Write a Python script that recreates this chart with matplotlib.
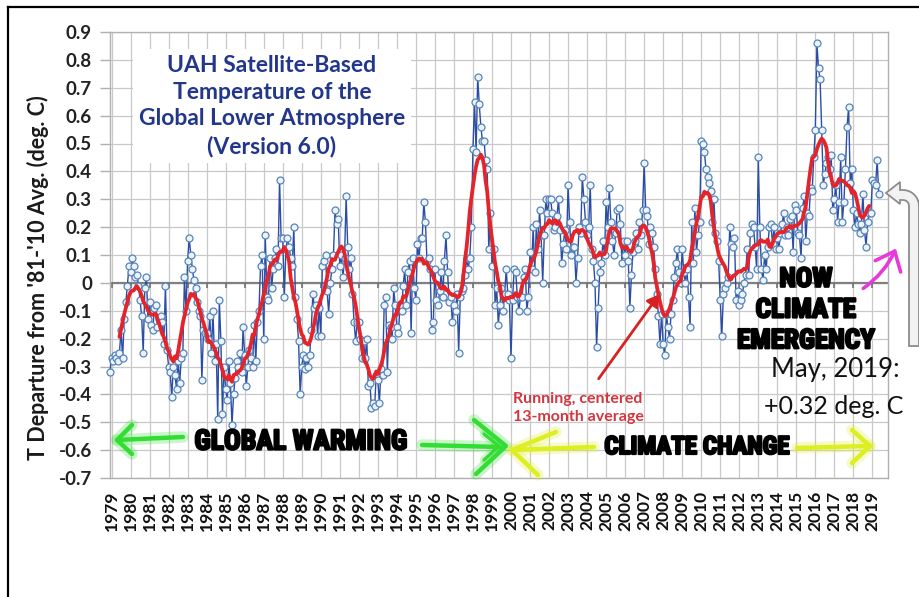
import numpy as np
import matplotlib
matplotlib.use("Agg")
import matplotlib.pyplot as plt
from matplotlib import font_manager
from matplotlib.patches import FancyArrowPatch, Polygon
from matplotlib.lines import Line2D
import matplotlib.patheffects as pe

# ---------------- data (UAH v6.0 global lower troposphere, deg C) -------------
temps_1978 = [-0.32]
temps_1979 = [-0.27, -0.28, -0.26, -0.27, -0.28, -0.25, -0.17, -0.27, -0.13, -0.07, -0.01, 0.06]
temps_1980 = [0.04, 0.09, 0.06, 0.02, 0.03, -0.01, -0.06, -0.12, -0.25, -0.02, 0.02, -0.13]
temps_1981 = [-0.07, -0.15, -0.17, -0.09, -0.08, -0.16, -0.13, -0.12, -0.14, -0.22, -0.01, -0.24]
temps_1982 = [-0.30, -0.32, -0.41, -0.30, -0.33, -0.38, -0.28, -0.36, -0.27, -0.25, 0.02, -0.10]
temps_1983 = [0.08, 0.16, 0.10, 0.05, 0.01, -0.02, -0.07, -0.10, -0.12, -0.35, -0.17, -0.18]
temps_1984 = [-0.18, -0.20, -0.12, -0.25, -0.10, -0.28, -0.22, -0.49, -0.06, -0.21, -0.47, -0.30]
temps_1985 = [-0.38, -0.42, -0.28, -0.36, -0.51, -0.40, -0.34, -0.28, -0.30, -0.25, -0.32, -0.16]
temps_1986 = [-0.26, -0.37, -0.30, -0.24, -0.27, -0.30, -0.15, -0.28, -0.14, -0.10, 0.06, 0.10]
temps_1987 = [-0.20, 0.17, -0.05, -0.06, 0.09, -0.02, 0.05, 0.09, 0.12, 0.06, 0.37, 0.16]
temps_1988 = [0.16, -0.05, 0.12, 0.16, 0.13, 0.09, 0.06, 0.20, -0.05, -0.13, -0.21, -0.40]
temps_1989 = [-0.30, -0.26, -0.31, -0.27, -0.30, -0.26, -0.17, -0.04, -0.09, -0.08, -0.19, -0.09]
temps_1990 = [-0.19, 0.06, 0.08, 0.10, -0.03, -0.11, 0.00, 0.05, 0.10, 0.26, 0.21, 0.23]
temps_1991 = [0.06, 0.10, 0.02, 0.09, 0.31, 0.13, 0.05, 0.09, -0.04, -0.14, -0.21, -0.14]
temps_1992 = [-0.14, -0.20, -0.27, -0.21, -0.27, -0.20, -0.37, -0.36, -0.45, -0.43, -0.44, -0.33]
temps_1993 = [-0.35, -0.43, -0.31, -0.33, -0.08, -0.05, -0.32, -0.15, -0.16, -0.20, -0.02, -0.08]
temps_1994 = [-0.16, -0.18, -0.08, -0.10, -0.01, 0.05, -0.08, 0.04, 0.08, -0.18, 0.09, -0.02]
temps_1995 = [-0.06, 0.14, 0.09, 0.16, 0.16, 0.29, 0.22, 0.08, 0.09, 0.05, -0.17, -0.14]
temps_1996 = [0.05, -0.06, -0.08, -0.03, 0.04, -0.05, 0.08, 0.17, 0.04, -0.07, -0.05, -0.14]
temps_1997 = [-0.08, -0.10, -0.04, -0.25, -0.05, -0.03, -0.02, 0.03, 0.09, 0.05, 0.09, 0.20]
temps_1998 = [0.48, 0.65, 0.47, 0.74, 0.64, 0.56, 0.51, 0.51, 0.44, 0.41, 0.12, 0.25]
temps_1999 = [0.06, 0.12, -0.08, -0.02, -0.15, -0.08, -0.02, -0.10, -0.04, 0.05, -0.04, -0.06]
temps_2000 = [-0.27, -0.06, 0.05, 0.04, -0.05, -0.10, -0.05, -0.05, 0.02, 0.05, -0.10, -0.05]
temps_2001 = [0.11, 0.05, 0.20, 0.04, 0.21, 0.12, 0.26, 0.17, 0.00, 0.17, 0.30, 0.25]
temps_2002 = [0.30, 0.30, 0.25, 0.19, 0.20, 0.24, 0.30, 0.19, 0.07, 0.14, 0.19, 0.12]
temps_2003 = [0.35, 0.22, 0.10, 0.13, 0.13, 0.00, 0.09, 0.20, 0.18, 0.38, 0.30, 0.22]
temps_2004 = [0.17, 0.20, 0.35, 0.12, 0.08, 0.00, -0.23, -0.09, 0.04, 0.07, 0.15, 0.10]
temps_2005 = [0.29, 0.20, 0.34, 0.22, 0.15, 0.10, 0.18, 0.26, 0.27, 0.21, 0.07, 0.15]
temps_2006 = [0.10, 0.15, 0.08, -0.09, 0.03, 0.11, 0.15, 0.18, 0.12, 0.22, 0.17, 0.26]
temps_2007 = [0.43, 0.26, 0.24, 0.14, 0.20, 0.18, 0.13, 0.05, -0.04, -0.12, -0.22, -0.11]
temps_2008 = [-0.22, -0.26, -0.11, -0.16, -0.20, -0.11, -0.06, 0.02, 0.07, 0.12, 0.04, 0.00]
temps_2009 = [0.12, 0.04, 0.00, 0.05, -0.05, -0.16, 0.22, 0.07, 0.27, 0.11, 0.17, 0.22]
temps_2010 = [0.51, 0.50, 0.47, 0.41, 0.38, 0.36, 0.33, 0.22, 0.30, 0.18, 0.15, 0.08]
temps_2011 = [-0.06, -0.19, -0.04, -0.02, 0.00, 0.02, 0.20, 0.14, 0.13, 0.16, -0.06, -0.03]
temps_2012 = [-0.08, -0.06, -0.04, 0.00, 0.03, 0.12, 0.03, 0.18, 0.21, 0.20, 0.13, 0.05]
temps_2013 = [0.45, 0.20, 0.05, 0.01, 0.10, 0.05, 0.13, 0.20, 0.21, 0.14, 0.20, 0.12]
temps_2014 = [0.16, 0.12, 0.18, 0.21, 0.25, 0.17, 0.20, 0.17, 0.23, 0.24, 0.11, 0.28]
temps_2015 = [0.26, 0.18, 0.17, 0.09, 0.27, 0.31, 0.15, 0.25, 0.24, 0.34, 0.33, 0.45]
temps_2016 = [0.55, 0.86, 0.77, 0.73, 0.55, 0.35, 0.39, 0.43, 0.45, 0.41, 0.46, 0.26]
temps_2017 = [0.30, 0.35, 0.22, 0.29, 0.45, 0.22, 0.29, 0.41, 0.56, 0.63, 0.36, 0.41]
temps_2018 = [0.26, 0.20, 0.25, 0.21, 0.18, 0.21, 0.32, 0.19, 0.13, 0.22, 0.25, 0.25]
temps_2019 = [0.37, 0.36, 0.35, 0.44, 0.32]

year_labels = list(range(1979, 2020))
y_ticks = [0.9, 0.8, 0.7, 0.6, 0.5, 0.4, 0.3, 0.2, 0.1, 0.0,
           -0.1, -0.2, -0.3, -0.4, -0.5, -0.6, -0.7]

all_years = [temps_1978, temps_1979, temps_1980, temps_1981, temps_1982, temps_1983,
             temps_1984, temps_1985, temps_1986, temps_1987, temps_1988, temps_1989,
             temps_1990, temps_1991, temps_1992, temps_1993, temps_1994, temps_1995,
             temps_1996, temps_1997, temps_1998, temps_1999, temps_2000, temps_2001,
             temps_2002, temps_2003, temps_2004, temps_2005, temps_2006, temps_2007,
             temps_2008, temps_2009, temps_2010, temps_2011, temps_2012, temps_2013,
             temps_2014, temps_2015, temps_2016, temps_2017, temps_2018, temps_2019]
temps = np.array([v for yr in all_years for v in yr])
t = 1978 + 11 / 12 + np.arange(len(temps)) / 12.0   # Dec 1978 ...
run13 = np.convolve(temps, np.ones(13) / 13, mode="valid")
t13 = t[6:-6]

# ---------------- fonts ----------------
names = {f.name for f in font_manager.fontManager.ttflist}
def pick(*cands):
    for c in cands:
        if c in names:
            return c
    return "DejaVu Sans"
SANS = pick("Lato", "Open Sans", "Noto Sans", "DejaVu Sans")
HEAVY = pick("Roboto Condensed", "Liberation Sans Narrow", "DejaVu Sans")
HSTRETCH = "condensed" if HEAVY == "DejaVu Sans" else "normal"

W, H = 920, 597
def fp(x, y):
    """image pixel -> figure fraction"""
    return (x / W, 1 - y / H)

fig = plt.figure(figsize=(9.2, 5.97), dpi=100)
fig.patch.set_facecolor("white")
ax = fig.add_axes([110 / W, (H - 478) / H, 778 / W, 446 / H])

ax.set_xlim(1978.92, 2019.82)
ax.set_ylim(-0.7, 0.9)
ax.set_axisbelow(True)

ax.set_xticks(year_labels)
ax.set_xticklabels([str(y) for y in year_labels], rotation=90, fontsize=12.5,
                   fontweight="bold", family=SANS, color="#111111")
ax.set_yticks(y_ticks)
ax.set_yticklabels(["0" if abs(v) < 1e-9 else f"{v:.1f}" for v in y_ticks],
                   fontsize=13.5, fontweight="bold", family=SANS, color="#222222")
ax.tick_params(axis="x", length=0, pad=9)
ax.tick_params(axis="y", length=7, width=1, color="#B0B0B0", pad=6)
ax.grid(True, color="#C9C9C9", lw=0.9)
for s in ax.spines.values():
    s.set_color("#B0B0B0")
    s.set_linewidth(1.0)

# zero line with small tick marks
ax.axhline(0, color="#808080", lw=1.6, zorder=2)
ax.vlines(year_labels, -0.018, 0, colors="#707070", lw=1.2, zorder=2)

# data
ax.plot(t, temps, color="#2B4DA6", lw=1.0, marker="o", ms=5.0,
        mfc="#EEF3FA", mec="#5585BB", mew=0.9, zorder=3, clip_on=False)
ax.plot(t13, run13, color="#E3242B", lw=2.7, zorder=4, solid_capstyle="round")

# y label
fig.text(*fp(38, 278), "T Departure from '81-'10 Avg. (deg. C)", rotation=90,
         ha="center", va="center", fontsize=15.5, fontweight="bold",
         family=SANS, color="#1A1A1A")

# title block
fig.text(*fp(272, 106), "UAH Satellite-Based\nTemperature of the\nGlobal Lower Atmosphere\n(Version 6.0)",
         ha="center", va="center", fontsize=16.5, fontweight="bold", family=SANS,
         color="#22378C", linespacing=1.35,
         bbox=dict(facecolor="white", edgecolor="none", pad=4), zorder=5)

# running-average note and arrow
fig.text(*fp(513, 408), "Running, centered\n13-month average", ha="left", va="center",
         fontsize=11.5, fontweight="bold", family=SANS, color="#D2363E",
         linespacing=1.3)
fig.add_artist(FancyArrowPatch(fp(597, 381), fp(661, 292), transform=fig.transFigure,
                               arrowstyle="-|>,head_length=0.5,head_width=0.3",
                               mutation_scale=14, color="#D62222", lw=2.0))

# heavy labels
heavy = dict(family=HEAVY, fontweight="heavy", fontstretch=HSTRETCH, color="black",
             path_effects=[pe.withStroke(linewidth=1.6, foreground="black")])
fig.text(*fp(301, 442), "GLOBAL WARMING", ha="center", va="center", fontsize=20, **heavy)
fig.text(*fp(697, 447), "CLIMATE CHANGE", ha="center", va="center", fontsize=18, **heavy)
fig.text(*fp(806, 310), "NOW\nCLIMATE\nEMERGENCY", ha="center", va="center",
         fontsize=19.5, linespacing=1.18, **heavy)

fig.text(*fp(835, 369), "May, 2019:", ha="center", va="center", fontsize=18.5,
         family=SANS, color="#111111")
fig.text(*fp(834, 406), "+0.32 deg. C", ha="center", va="center", fontsize=18,
         family=SANS, color="#111111")

def draw(xs, ys, color, lw, glow=True):
    pts = [fp(x, y) for x, y in zip(xs, ys)]
    X = [p[0] for p in pts]; Y = [p[1] for p in pts]
    if glow:
        fig.add_artist(Line2D(X, Y, transform=fig.transFigure, color=color, lw=lw * 2.6,
                              alpha=0.25, solid_capstyle="round", solid_joinstyle="round"))
    fig.add_artist(Line2D(X, Y, transform=fig.transFigure, color=color, lw=lw,
                          solid_capstyle="round", solid_joinstyle="round"))

GREEN = "#33DD33"
YELLOW = "#DDEE22"
# green left arrow
draw([183, 117], [437, 440], GREEN, 3.2)
draw([132, 117, 132], [425, 440, 454], GREEN, 3.2)
# green right arrow
draw([422, 500], [445, 447], GREEN, 3.2)
draw([474, 506, 476], [420, 446, 474], GREEN, 3.2)
draw([484, 499, 484], [434, 446, 460], GREEN, 2.4)
# yellow left arrow
draw([594, 512], [447, 450], YELLOW, 3.2)
draw([556, 512, 538], [432, 450, 475], YELLOW, 3.2)
# yellow right arrow
draw([797, 870], [448, 446], YELLOW, 3.2)
draw([852, 870, 852], [430, 446, 463], YELLOW, 3.2)

# magenta arrow
fig.add_artist(FancyArrowPatch(fp(861, 290), fp(897, 246), transform=fig.transFigure,
                               arrowstyle="->,head_length=0.6,head_width=0.5",
                               connectionstyle="arc3,rad=0.15",
                               mutation_scale=20, color="#E63AD9", lw=2.6))

# hollow gray bent arrow (decoration)
cx, cy = 903.0, 206.0
outer = [(cx + 16 * np.cos(a), cy - 16 * np.sin(a)) for a in np.linspace(0, np.pi / 2, 12)]
inner = [(cx + 6 * np.cos(a), cy - 6 * np.sin(a)) for a in np.linspace(np.pi / 2, 0, 12)]
shape = ([(909, 346)] + [(909, 206)][:0] + inner[::-1][:0] +
         [(cx + 6, cy)] + inner[::-1][1:][::-1][:0])
# build polygon explicitly: inner edge up, inner corner, head, outer corner, outer edge down
poly = [(909, 346), (909, 206)]
poly += [(cx + 6 * np.cos(a), cy - 6 * np.sin(a)) for a in np.linspace(0, np.pi / 2, 10)]
poly += [(900, 200), (900, 204), (886, 193), (900, 182), (900, 190)]
poly += [(cx + 16 * np.cos(a), cy - 16 * np.sin(a)) for a in np.linspace(np.pi / 2, 0, 12)]
poly += [(919, 346)]
fig.add_artist(Polygon([fp(x, y) for x, y in poly], closed=True, transform=fig.transFigure,
                       fc="#F2F2F2", ec="#8C8C8C", lw=1.3))

# outer frame
fig.add_artist(Line2D([8 / W, 1.0], [1 - 7 / H, 1 - 7 / H], transform=fig.transFigure,
                      color="black", lw=1.6))
fig.add_artist(Line2D([8 / W, 8 / W], [0.0, 1 - 7 / H], transform=fig.transFigure,
                      color="black", lw=1.6))

fig.savefig("out.png", dpi=100)
